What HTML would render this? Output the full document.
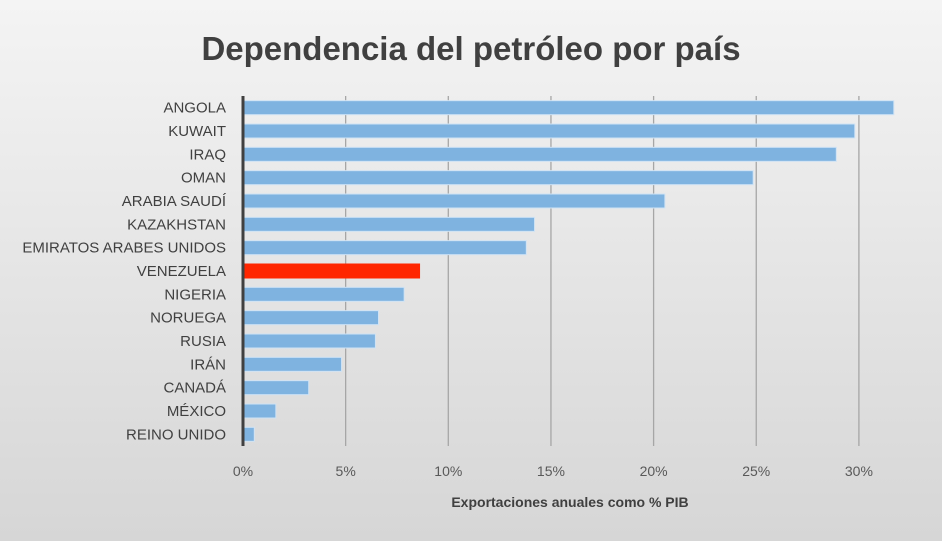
<!DOCTYPE html>
<html><head><meta charset="utf-8"><style>
body{margin:0;width:942px;height:541px;overflow:hidden;font-family:"Liberation Sans",sans-serif}
#c{width:942px;height:541px;background:linear-gradient(#f4f4f4,#d6d6d6);position:relative}
</style></head><body>
<div id="c">
<svg id="s" width="942" height="541"></svg>
</div>
<script>
const categories=["ANGOLA","KUWAIT","IRAQ","OMAN","ARABIA SAUDÍ","KAZAKHSTAN","EMIRATOS ARABES UNIDOS","VENEZUELA","NIGERIA","NORUEGA","RUSIA","IRÁN","CANADÁ","MÉXICO","REINO UNIDO"];
const values=[31.7,29.8,28.9,24.85,20.55,14.2,13.8,8.6,7.85,6.6,6.45,4.8,3.2,1.6,0.55];
const tickValues=[0,5,10,15,20,25,30];
const tickLabels=["0%","5%","10%","15%","20%","25%","30%"];
const NS="http://www.w3.org/2000/svg";
const svg=document.getElementById('s');
const x0=243,pxPer=20.53,plotTop=96,plotBottom=446,rowH=(plotBottom-plotTop)/categories.length;
const xs=v=>x0+v*pxPer;
const ys=i=>plotTop+rowH*i+rowH/2;
function mk(t,a){const e=document.createElementNS(NS,t);for(const k in a)e.setAttribute(k,a[k]);svg.appendChild(e);return e;}
let t=mk('text',{x:471,y:60,'text-anchor':'middle','font-size':33,'font-weight':'bold',fill:'#404040'});


t.textContent='Dependencia del petróleo por país';
tickValues.forEach((v,i)=>{
 if(v>0){const g=mk('line',{x1:xs(v),x2:xs(v),y1:plotTop,y2:plotBottom,stroke:'#a6a6a6','stroke-width':1.3});
 
 }
 const l=mk('text',{x:xs(v),y:476,'text-anchor':'middle','font-size':14,fill:'#595959'});
 
 
 l.textContent=tickLabels[i];
});
categories.forEach((c,i)=>{
 const b=mk('rect',{x:x0,y:ys(i)-7,width:xs(values[i])-x0,height:14,fill:c==='VENEZUELA'?'#ff2600':'#7fb3e0',stroke:c==='VENEZUELA'?'#ff2600':'#cfe3f5','stroke-width':1});
 
 
 const l=mk('text',{x:226,y:ys(i)+5,'text-anchor':'end','font-size':15,fill:'#404040'});
 
 
 l.textContent=c;
});
const ax=mk('line',{x1:x0,x2:x0,y1:plotTop,y2:plotBottom,stroke:'#404040','stroke-width':3});


const xt=mk('text',{x:570,y:507,'text-anchor':'middle','font-size':14,'font-weight':'bold',fill:'#404040'});


xt.textContent='Exportaciones anuales como % PIB';
</script>
</body></html>
